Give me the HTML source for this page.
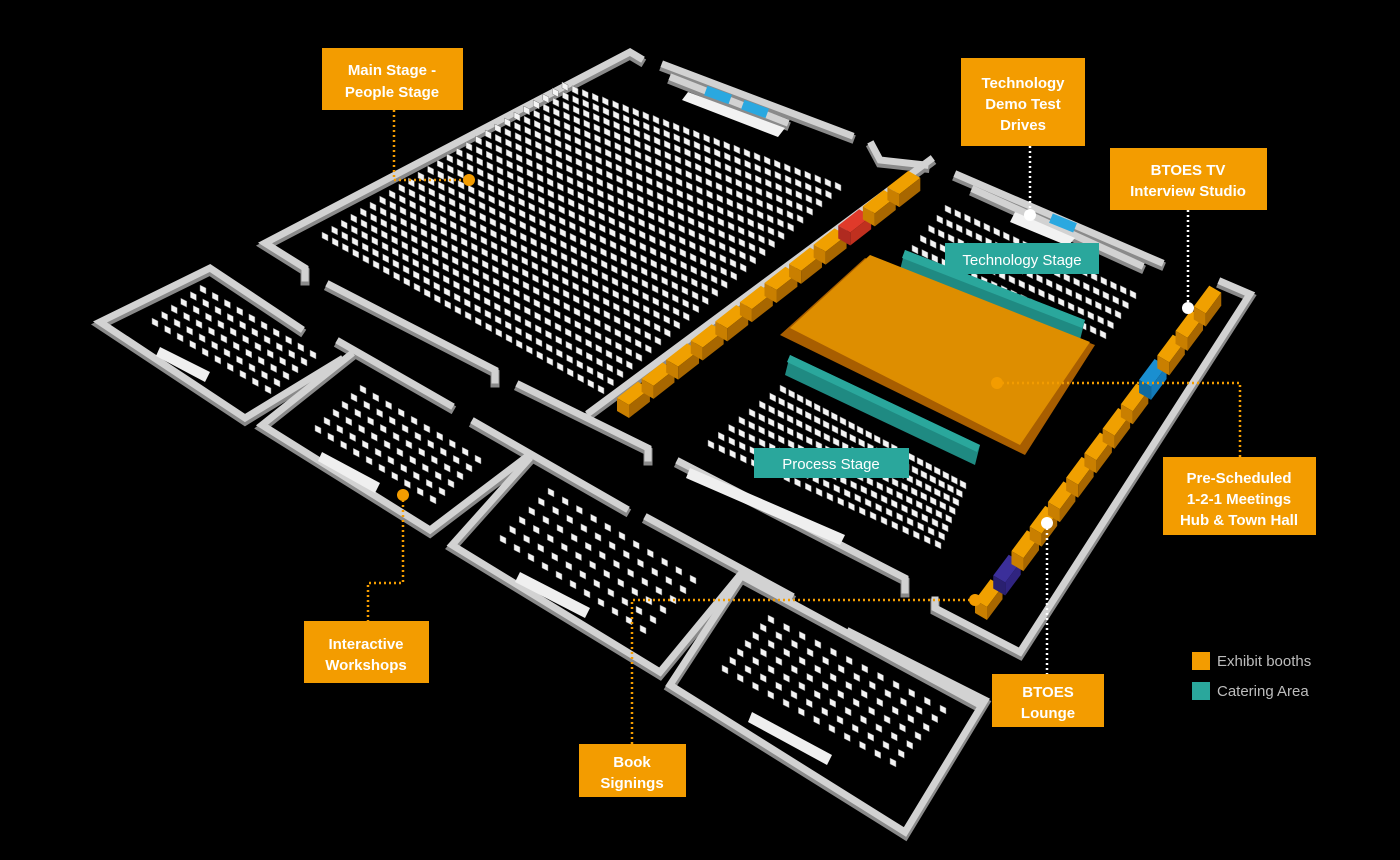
<!DOCTYPE html>
<html><head><meta charset="utf-8"><style>
html,body{margin:0;padding:0;background:#000;}
svg{display:block}
.lbl{font-family:"Liberation Sans",sans-serif;font-weight:bold;fill:#fff;font-size:15px;text-anchor:middle}
.leg{font-family:"Liberation Sans",sans-serif;fill:#bdbdbd;font-size:15px}
</style></head><body>
<svg id="s" width="1400" height="860" viewBox="0 0 1400 860" xmlns="http://www.w3.org/2000/svg">
<rect width="1400" height="860" fill="#000"/>
<g id="walls" fill="none" stroke-linejoin="miter" stroke-linecap="square">
 <g stroke="#8a8a8a" stroke-width="9" transform="translate(0,3)">
  <polyline points="305,278 305,268 265,243 630,52 640,58"/>
  <polyline points="495,380 495,370 330,285"/>
  <polyline points="648,458 648,448 520,385"/>
  <polyline points="930,160 590,412"/>
  <polyline points="872,145 880,160 925,165"/>
  <polyline points="665,65 850,135"/>
  <polyline points="673,78 785,122"/>
  <polyline points="958,175 1160,262"/>
  <polyline points="975,190 1140,265"/>
  <polyline points="1222,282 1250,294 1020,652 935,608 935,600"/>
  <polyline points="300,328 210,268 100,322 245,418 340,360"/>
  <polyline points="350,355 262,425 430,530 525,458"/>
  <polyline points="340,342 450,405"/>
  <polyline points="475,422 625,508"/>
  <polyline points="528,460 452,545 660,672 740,575 980,705"/>
  <polyline points="648,518 790,595"/>
  <polyline points="850,632 985,700 905,832 670,685 740,578"/>
  <polyline points="680,462 905,578 905,590"/>
 </g>
 <g stroke="#d2d2d2" stroke-width="7">
  <polyline points="305,278 305,268 265,243 630,52 640,58"/>
  <polyline points="495,380 495,370 330,285"/>
  <polyline points="648,458 648,448 520,385"/>
  <polyline points="930,160 590,412"/>
  <polyline points="872,145 880,160 925,165"/>
  <polyline points="665,65 850,135"/>
  <polyline points="673,78 785,122"/>
  <polyline points="958,175 1160,262"/>
  <polyline points="975,190 1140,265"/>
  <polyline points="1222,282 1250,294 1020,652 935,608 935,600"/>
  <polyline points="300,328 210,268 100,322 245,418 340,360"/>
  <polyline points="350,355 262,425 430,530 525,458"/>
  <polyline points="340,342 450,405"/>
  <polyline points="475,422 625,508"/>
  <polyline points="528,460 452,545 660,672 740,575 980,705"/>
  <polyline points="648,518 790,595"/>
  <polyline points="850,632 985,700 905,832 670,685 740,578"/>
  <polyline points="680,462 905,578 905,590"/>
 </g>
 <polygon points="688,92 785,128 778,137 682,100" fill="#f2f2f2"/>
 <rect x="705" y="90" width="26" height="10" fill="#2aa8e0" transform="rotate(20 718 95)"/>
 <rect x="742" y="104" width="26" height="10" fill="#2aa8e0" transform="rotate(20 755 109)"/>
 <polygon points="1015,212 1075,238 1068,246 1010,222" fill="#f2f2f2"/>
 <rect x="1050" y="218" width="26" height="10" fill="#2aa8e0" transform="rotate(22 1063 223)"/>
 <polygon points="690,468 845,535 840,545 686,478" fill="#efefef"/>
 <polygon points="160,347 210,372 205,382 156,356" fill="#efefef"/>
 <polygon points="322,452 380,483 375,493 318,461" fill="#efefef"/>
 <polygon points="520,572 590,608 585,618 515,582" fill="#efefef"/>
 <polygon points="752,712 832,755 827,765 748,722" fill="#efefef"/>
</g>
<g id="seats"></g>
<polygon points="905,250 1085,320 1080,340 900,270" fill="#1f8a82"/>
<polygon points="905,250 1085,320 1082,328 902,258" fill="#2aa79c"/>
<polygon points="790,355 980,445 975,465 785,375" fill="#1f8a82"/>
<polygon points="790,355 980,445 977,452 787,362" fill="#2aa79c"/>
<polygon points="780,335 865,258 1095,345 1025,455" fill="#a85e00"/>
<polygon points="790,328 870,255 1090,342 1020,445" fill="#de8e00"/>
<g id="booths"></g>
<g fill="none" stroke-width="2.5" stroke-dasharray="2 3">
 <polyline points="394,110 394,180 469,180" stroke="#f39c00"/>
 <polyline points="997,383 1240,383 1240,457" stroke="#f39c00"/>
 <polyline points="403,495 403,583 368,583 368,621" stroke="#f39c00"/>
 <polyline points="975,600 632,600 632,744" stroke="#f39c00"/>
 <polyline points="1030,146 1030,215" stroke="#fff"/>
 <polyline points="1188,210 1188,308" stroke="#fff"/>
 <polyline points="1047,523 1047,674" stroke="#fff"/>
</g>
<circle cx="469" cy="180" r="6" fill="#f39c00"/>
<circle cx="997" cy="383" r="6" fill="#f39c00"/>
<circle cx="403" cy="495" r="6" fill="#f39c00"/>
<circle cx="975" cy="600" r="6" fill="#f39c00"/>
<circle cx="1030" cy="215" r="6" fill="#fff"/>
<circle cx="1188" cy="308" r="6" fill="#fff"/>
<circle cx="1047" cy="523" r="6" fill="#fff"/>
<g fill="#f39c00">
 <rect x="322" y="48" width="141" height="62"/>
 <rect x="961" y="58" width="124" height="88"/>
 <rect x="1110" y="148" width="157" height="62"/>
 <rect x="1163" y="457" width="153" height="78"/>
 <rect x="304" y="621" width="125" height="62"/>
 <rect x="579" y="744" width="107" height="53"/>
 <rect x="992" y="674" width="112" height="53"/>
</g>
<rect x="945" y="243" width="154" height="31" fill="#2aa79c"/>
<rect x="754" y="448" width="155" height="30" fill="#2aa79c"/>
<text class="lbl"><tspan x="392" y="75">Main Stage -</tspan><tspan x="392" y="97">People Stage</tspan></text>
<text class="lbl"><tspan x="1023" y="88">Technology</tspan><tspan x="1023" y="109">Demo Test</tspan><tspan x="1023" y="130">Drives</tspan></text>
<text class="lbl"><tspan x="1188" y="175">BTOES TV</tspan><tspan x="1188" y="196">Interview Studio</tspan></text>
<text class="lbl"><tspan x="1239" y="483">Pre-Scheduled</tspan><tspan x="1239" y="504">1-2-1 Meetings</tspan><tspan x="1239" y="525">Hub &amp; Town Hall</tspan></text>
<text class="lbl"><tspan x="366" y="649">Interactive</tspan><tspan x="366" y="670">Workshops</tspan></text>
<text class="lbl"><tspan x="632" y="767">Book</tspan><tspan x="632" y="788">Signings</tspan></text>
<text class="lbl"><tspan x="1048" y="697">BTOES</tspan><tspan x="1048" y="718">Lounge</tspan></text>
<text class="lbl" x="1022" y="265" style="font-weight:normal">Technology Stage</text>
<text class="lbl" x="831" y="469" style="font-weight:normal">Process Stage</text>
<rect x="1192" y="652" width="18" height="18" fill="#f39c00"/>
<rect x="1192" y="682" width="18" height="18" fill="#2aa79c"/>
<text class="leg" x="1217" y="666">Exhibit booths</text>
<text class="leg" x="1217" y="696">Catering Area</text>
</svg>
<script>
var NS="http://www.w3.org/2000/svg";
var S=document.getElementById("seats"),B=document.getElementById("booths");
function grid(A,T,R,Bt,nr,nc,sz){
 var d="";
 for(var i=0;i<nr;i++)for(var j=0;j<nc;j++){
  var u=i/(nr-1),v=j/(nc-1);
  var x=(1-u)*(1-v)*A[0]+u*(1-v)*T[0]+u*v*R[0]+(1-u)*v*Bt[0];
  var y=(1-u)*(1-v)*A[1]+u*(1-v)*T[1]+u*v*R[1]+(1-u)*v*Bt[1];
  d+="M"+x.toFixed(1)+" "+y.toFixed(1)+"l"+sz+" "+(sz*0.5)+"l0 "+sz+"l-"+sz+" -"+(sz*0.5)+"z";
 }
 var p=document.createElementNS(NS,"path");p.setAttribute("d",d);p.setAttribute("fill","#f4f4f4");
 p.setAttribute("stroke","#777");p.setAttribute("stroke-width","0.5");S.appendChild(p);
}
grid([322,232],[562,82],[835,182],[598,385],26,28,6);
grid([912,245],[945,205],[1130,290],[1100,330],5,20,6);
grid([708,440],[780,385],[960,480],[935,540],8,22,6);
grid([152,318],[200,285],[310,350],[265,385],6,10,6);
grid([315,425],[360,385],[475,455],[430,495],6,10,6);
grid([500,535],[548,488],[690,575],[640,625],6,11,6);
grid([722,665],[768,615],[940,705],[890,758],7,12,6);
function booths(x0,y0,x1,y1,n,col){
 for(var i=0;i<n;i++){
  var t=i/n,t2=(i+0.85)/n;
  var ax=x0+(x1-x0)*t,ay=y0+(y1-y0)*t,bx=x0+(x1-x0)*t2,by=y0+(y1-y0)*t2;
  var c=(col&&col[i])||["#f0a000","#c97f00","#a86700"];
  var top=document.createElementNS(NS,"polygon");
  top.setAttribute("points",[ax,ay,bx,by,bx+12,by+7,ax+12,ay+7].join(" "));top.setAttribute("fill",c[0]);
  var f=document.createElementNS(NS,"polygon");
  f.setAttribute("points",[ax,ay,ax+12,ay+7,ax+12,ay+20,ax,ay+13].join(" "));f.setAttribute("fill",c[1]);
  var g=document.createElementNS(NS,"polygon");
  g.setAttribute("points",[ax+12,ay+7,bx+12,by+7,bx+12,by+20,ax+12,ay+20].join(" "));g.setAttribute("fill",c[2]);
  B.appendChild(top);B.appendChild(g);B.appendChild(f);
 }
}
var L={};L[9]=["#e03a2a","#b02a20","#c0301f"];
booths(617,398,912,168,12,L);
var R={};R[1]=["#3b2f9a","#2a2070","#302480"];R[9]=["#1a8fd0","#0f6a9e","#137ab8"];
booths(975,600,1212,282,13,R);
</script>
</body></html>
